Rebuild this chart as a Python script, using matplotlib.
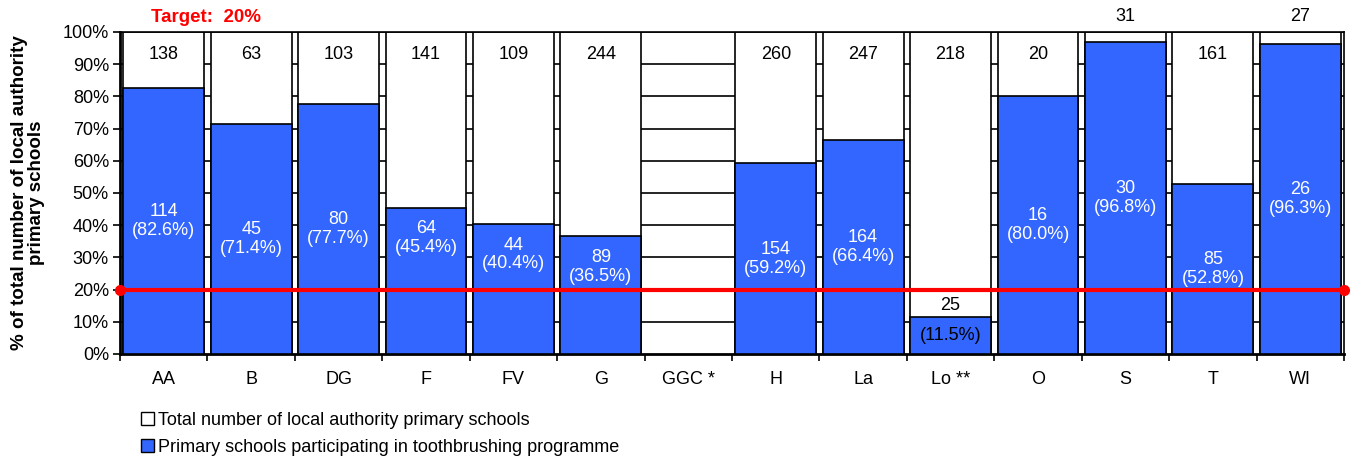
import matplotlib
matplotlib.use("Agg")
import matplotlib.pyplot as plt
from matplotlib.patches import Patch
import numpy as np

categories = ["AA", "B", "DG", "F", "FV", "G", "GGC *", "H", "La", "Lo **", "O", "S", "T", "WI"]
totals = [138, 63, 103, 141, 109, 244, None, 260, 247, 218, 20, 31, 161, 27]
participating = [114, 45, 80, 64, 44, 89, None, 154, 164, 25, 16, 30, 85, 26]
percent = [82.6, 71.4, 77.7, 45.4, 40.4, 36.5, None, 59.2, 66.4, 11.5, 80.0, 96.8, 52.8, 96.3]
target = 20

blue = "#3366FF"
plt.rcParams['font.family'] = ['Liberation Sans', 'DejaVu Sans']
FS = 13

fig = plt.figure(figsize=(13.56, 4.59), dpi=100)
ax = fig.add_axes([0.0885, 0.2288, 0.9027, 0.7015])

x = np.arange(len(categories))
width = 0.925
for yv in range(10, 101, 10):
    ax.axhline(yv, color="black", lw=1.2, zorder=0)

for i in range(len(categories)):
    if totals[i] is None:
        continue
    p = percent[i]
    ax.bar(x[i], 100, width=width, color="white", edgecolor="black", lw=1.2, zorder=2)
    ax.bar(x[i], p, width=width, color=blue, edgecolor="black", lw=1.2, zorder=3)
    # total label
    if p > 90:
        ax.text(x[i], 102.3, str(totals[i]), ha="center", va="bottom", fontsize=FS, zorder=7, clip_on=False)
    else:
        ax.text(x[i], 93, str(totals[i]), ha="center", va="center", fontsize=FS, zorder=7)
    # participating label
    if p < target:
        ax.text(x[i], p + 0.8, str(participating[i]), ha="center", va="bottom", fontsize=FS, zorder=7)
        ax.text(x[i], p / 2, f"({p:.1f}%)", ha="center", va="center", fontsize=FS, zorder=7)
    else:
        yc = p / 2
        if abs(yc - target) < 6:
            yc = p - 9.5
        ax.text(x[i], yc, f"{participating[i]}\n({p:.1f}%)", ha="center", va="center",
                fontsize=FS, color="white", zorder=7, linespacing=1.15)

ax.plot([-0.5, len(categories) - 0.5], [target, target], color="red", lw=3, marker="o", markersize=7,
        zorder=6, clip_on=False)

ax.set_xlim(-0.5, len(categories) - 0.5)
ax.set_ylim(0, 100)
ax.set_yticks(range(0, 101, 10))
ax.set_yticklabels([f"{v}%" for v in range(0, 101, 10)], fontsize=FS)
ax.set_xticks(x)
ax.set_xticklabels(categories, fontsize=FS)
ax.set_xticks(np.arange(-0.5, len(categories), 1), minor=True)
ax.tick_params(axis="x", which="major", length=0, pad=12)
ax.tick_params(axis="x", which="minor", length=5, width=1.2, direction="out")
ax.tick_params(axis="y", length=5, width=1.2, direction="out", pad=3)
for s in ["left", "bottom"]:
    ax.spines[s].set_linewidth(2)
for s in ["top", "right"]:
    ax.spines[s].set_linewidth(1.2)

ax.set_ylabel("% of total number of local authority\nprimary schools", fontsize=13.5, fontweight="bold",
              linespacing=1.0)
ax.yaxis.set_label_coords(-0.061, 0.5)

ax.text(0.025, 1.045, "Target:  20%", transform=ax.transAxes, color="red", fontsize=13.5,
        fontweight="bold", ha="left", va="center", clip_on=False)

handles = [Patch(facecolor="white", edgecolor="black", label="Total number of local authority primary schools"),
           Patch(facecolor=blue, edgecolor="black", label="Primary schools participating in toothbrushing programme")]
fig.legend(handles=handles, loc="upper left", bbox_to_anchor=(0.104, 0.103), frameon=False, fontsize=13,
           handlelength=0.7, handleheight=0.7, handletextpad=0.25, labelspacing=0.55, borderaxespad=0,
           borderpad=0)

fig.savefig("out.png", dpi=100)
